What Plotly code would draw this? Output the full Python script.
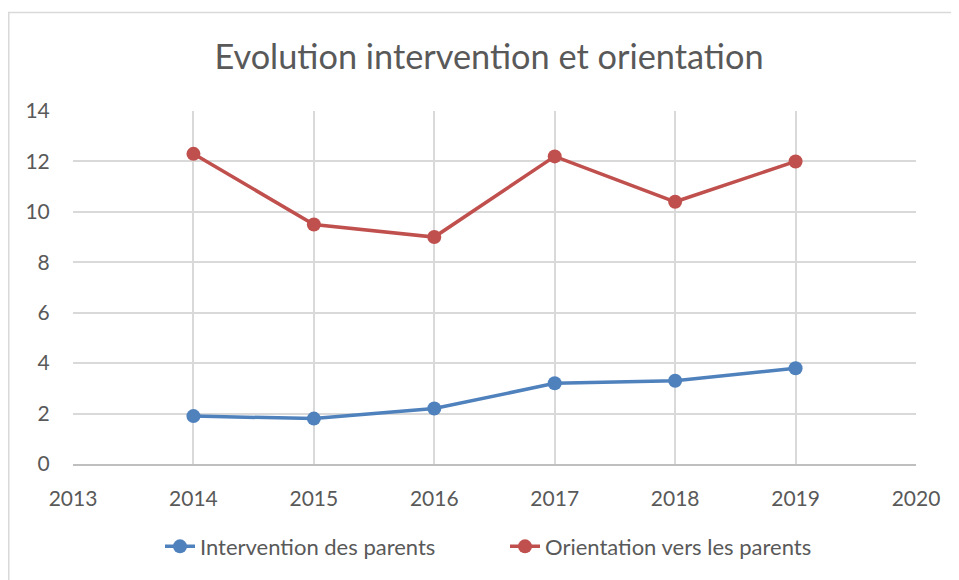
import plotly.graph_objects as go

years = [2014, 2015, 2016, 2017, 2018, 2019]
intervention = [1.9, 1.8, 2.2, 3.2, 3.3, 3.8]
orientation = [12.3, 9.5, 9.0, 12.2, 10.4, 12.0]
series_names = ["Intervention des parents", "Orientation vers les parents"]
title_text = "Evolution intervention et orientation"

FONT = "Lato"
GRAY = "#595959"

# the page body has an 8px margin, so the figure is sized/offset to compensate
W, H = 951, 572
L, R, T, B = 65, 43, 103, 114

fig = go.Figure()
fig.add_trace(go.Scatter(x=years, y=intervention, mode="lines+markers", name=series_names[0],
                         line=dict(color="#4f81bd", width=3.5),
                         marker=dict(color="#4f81bd", size=14)))
fig.add_trace(go.Scatter(x=years, y=orientation, mode="lines+markers", name=series_names[1],
                         line=dict(color="#c0504d", width=3.5),
                         marker=dict(color="#c0504d", size=14)))

ph = H - T - B
pw = W - L - R
fig.update_layout(
    width=W, height=H,
    margin=dict(l=L, r=R, t=T, b=B),
    paper_bgcolor="white", plot_bgcolor="white",
    font=dict(family=FONT, color=GRAY, size=21),
    title=dict(text=title_text, x=481 / W, xanchor="center", y=1 - 49 / H, yanchor="middle",
               font=dict(size=34.3, color=GRAY, family=FONT)),
    showlegend=True,
    legend=dict(orientation="h", x=(497 - L) / pw, xanchor="center",
                y=-(541 - (T + ph)) / ph, yanchor="middle",
                font=dict(size=22, color=GRAY), entrywidth=300, entrywidthmode="pixels",
                traceorder="normal"),
    xaxis=dict(range=[2013, 2020], dtick=1, tick0=2013, showgrid=True, gridcolor="#d9d9d9",
               gridwidth=1.5, zeroline=False, showline=True, linecolor="#bfbfbf", linewidth=2,
               ticks="outside", ticklen=15, tickcolor="rgba(0,0,0,0)",
               tickfont=dict(size=21, color=GRAY)),
    yaxis=dict(range=[0, 14], dtick=2, showgrid=True, gridcolor="#d9d9d9", gridwidth=1.5,
               zeroline=False, showline=False,
               ticks="outside", ticklen=18, tickcolor="rgba(0,0,0,0)",
               tickfont=dict(size=21, color=GRAY)),
)

# outer chart border
fig.add_shape(type="rect", xref="paper", yref="paper",
              x0=(0.75 - L) / pw, x1=(W + 10 - L) / pw,
              y0=-(H + 10 - (T + ph)) / ph, y1=(T + ph - 4) / ph,
              line=dict(color="#d9d9d9", width=1.5), fillcolor="rgba(0,0,0,0)", layer="below")

fig.write_html("out.html")
